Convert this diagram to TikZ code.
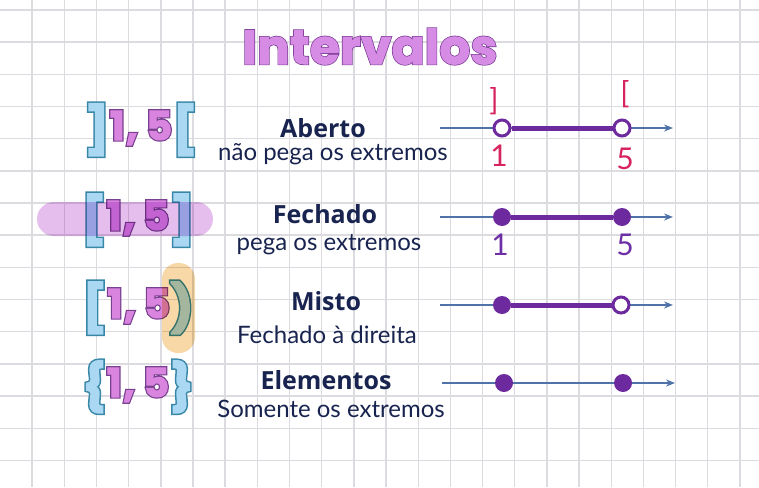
\documentclass[tikz,border=0pt]{standalone}
\usepackage{fontspec}
\usetikzlibrary{arrows.meta}
\newfontfamily\popf{Poppins}
\newfontfamily\labf{Open Sans}
\newfontfamily\handf{Lato}
\definecolor{gridc}{HTML}{DCDCE0}
\definecolor{axisc}{HTML}{4F73A8}
\definecolor{segc}{HTML}{6C2A9E}
\definecolor{redc}{HTML}{D6245E}
\definecolor{labpur}{HTML}{6D2FA5}
\definecolor{navy}{HTML}{18244F}
\definecolor{titfill}{rgb}{0.84,0.545,0.90}
\definecolor{titstk}{rgb}{0.48,0.23,0.58}
\definecolor{dgfill}{rgb}{0.85,0.52,0.88}
\definecolor{dgstk}{rgb}{0.47,0.25,0.56}
\definecolor{brfill}{rgb}{0.667,0.847,0.949}
\definecolor{brstk}{rgb}{0.22,0.53,0.65}
\definecolor{pinkhl}{HTML}{E6BEEE}
\definecolor{orahl}{HTML}{F7D8A6}
% thickened outlined glyphs: outer colour, outer rgb, inner colour, inner rgb, outer width, inner width, text
\newcommand\thk[7]{\rlap{{\color{#1}\special{pdf:literal direct #2 RG 2 Tr #5 w}#7\special{pdf:literal direct 0 Tr}}}{\color{#3}\special{pdf:literal direct #4 RG 2 Tr #6 w}#7\special{pdf:literal direct 0 Tr}}}
\newcommand\brk[1]{\thk{brstk}{0.22 0.53 0.65}{brfill}{0.667 0.847 0.949}{5}{2}{\fontsize{46}{46}\selectfont\raisebox{-6pt}{#1}}}
\newcommand\dgt[1]{\thk{dgstk}{0.47 0.25 0.56}{dgfill}{0.85 0.52 0.88}{3.4}{1.0}{\fontsize{40}{40}\selectfont #1}}
\newcommand\onefive{\kern1pt 1\kern1.5pt, 5\kern1pt}
\tikzset{
  gridline/.style={gridc, line width=1.4pt},
  axisline/.style={axisc, line width=1.8pt, -{Stealth[length=9pt,width=7pt]}},
  segline/.style={segc, line width=5pt},
  opendot/.style={circle, draw=segc, fill=white, line width=3pt, minimum size=16pt, inner sep=0pt},
  fulldot/.style={circle, fill=segc, minimum size=18pt, inner sep=0pt},
  notat/.style={anchor=base, inner sep=0pt, font=\popf\bfseries},
  lab/.style={anchor=base, inner sep=0pt, font=\labf\bfseries\fontsize{25}{25}\selectfont, text=navy},
  sub/.style={anchor=base, inner sep=0pt, font=\handf\fontsize{24}{24}\selectfont, text=navy},
  redlab/.style={inner sep=0pt, font=\handf\fontsize{30}{30}\selectfont, text=redc},
  purlab/.style={inner sep=0pt, font=\handf\fontsize{30}{30}\selectfont, text=labpur},
}
\begin{document}
\begin{tikzpicture}[x=1pt,y=-1pt]
\useasboundingbox (0,0) rectangle (759,487);
\fill[white] (0,0) rectangle (759,487);
% grid
\foreach \i in {1,...,23} \draw[gridline] (\i*32.17,0) -- (\i*32.17,487);
\foreach \j in {0,...,14} \draw[gridline] (0,10+\j*32.17) -- (759,10+\j*32.17);
% title
\node[anchor=base, inner sep=0pt, font=\popf\bfseries\fontsize{48}{48}\selectfont] (title) at (370,64) {\thk{titstk}{0.48 0.23 0.58}{titfill}{0.84 0.545 0.90}{2.4}{1.0}{I\kern0.5pt n\kern0.5pt t\kern0.5pt e\kern0.5pt r\kern0.5pt v\kern0.5pt a\kern0.5pt l\kern0.5pt o\kern0.5pt s}};
% notations
\node[notat] (n1) at (141,140) {\brk{]}\dgt{\onefive}\brk{[}};
\node[notat] (n2) at (138,230) {\brk{[}\dgt{\onefive}\brk{]}};
\node[notat] (n3) at (138,318) {\brk{[}\dgt{\onefive}\brk{)}};
\node[notat] (n4) at (138,397) {\brk{\{}\dgt{\onefive}\brk{\}}};
% highlights
\begin{scope}[blend mode=multiply]
\fill[pinkhl, rounded corners=17pt] (37,202) rectangle (213,236);
\fill[orahl, rounded corners=16pt] (162,263) rectangle (195,353);
\end{scope}
% labels
\node[lab] (l1) at (323,137) {Aberto};
\node[sub] (s1) at (333,160) {não pega os extremos};
\node[lab] (l2) at (325,223) {Fechado};
\node[sub] (s2) at (329,250) {pega os extremos};
\node[lab] (l3) at (326,310) {Misto};
\node[sub] (s3) at (327,343) {Fechado à direita};
\node[lab] (l4) at (326,389) {Elementos};
\node[sub] (s4) at (331,417) {Somente os extremos};
% row 1
\coordinate (a1s) at (440,128); \coordinate (a1e) at (673,128);
\draw[axisline] (a1s) -- (a1e);
\node[opendot] (p1a) at (502,128) {};
\node[opendot] (p1b) at (622,128) {};
\draw[segline] (p1a) -- (p1b);
\node[redlab] (r1a) at (494,101) {]};
\node[redlab] (r1b) at (625,94) {[};
\node[redlab] (r1c) at (499,156) {1};
\node[redlab] (r1d) at (625,159) {5};
% row 2
\coordinate (a2s) at (440,217); \coordinate (a2e) at (673,217);
\draw[axisline] (a2s) -- (a2e);
\node[fulldot] (p2a) at (502,217) {};
\node[fulldot] (p2b) at (622,217) {};
\draw[segline] (p2a) -- (p2b);
\node[purlab] (r2c) at (500,245) {1};
\node[purlab] (r2d) at (625,245) {5};
% row 3
\coordinate (a3s) at (440,305); \coordinate (a3e) at (673,305);
\draw[axisline] (a3s) -- (a3e);
\node[fulldot] (p3a) at (502,305) {};
\node[opendot] (p3b) at (621,305) {};
\draw[segline] (p3a) -- (p3b);
% row 4
\coordinate (a4s) at (442,383); \coordinate (a4e) at (675,383);
\draw[axisline] (a4s) -- (a4e);
\node[fulldot] (p4a) at (504,383) {};
\node[fulldot] (p4b) at (623,383) {};
\end{tikzpicture}
\end{document}
